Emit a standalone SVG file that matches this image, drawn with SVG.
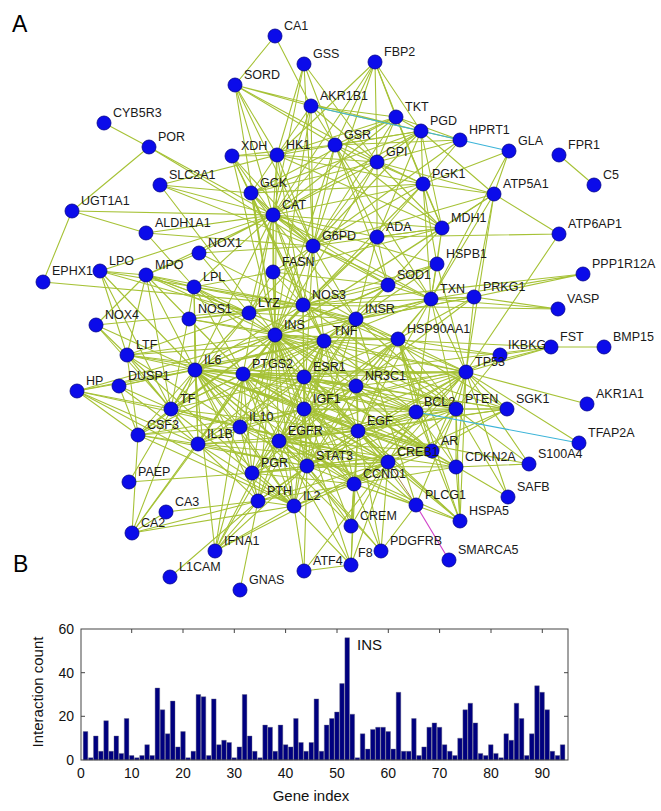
<svg xmlns="http://www.w3.org/2000/svg" width="661" height="811" viewBox="0 0 661 811">
<style>
.e{fill:none;stroke:#a6c236;stroke-width:1.1}
.n circle{fill:#0b0bea;stroke:#00008a;stroke-width:0.8}
.n text{font-family:"Liberation Sans",Arial,sans-serif;font-size:12.5px;fill:#1a1a1a}
.pl{font-family:"Liberation Sans",Arial,sans-serif;font-size:23px;fill:#000}
.ax{font-family:"Liberation Sans",Arial,sans-serif;font-size:14px;fill:#111}
.al{font-family:"Liberation Sans",Arial,sans-serif;font-size:15px;fill:#111}
</style>
<rect width="661" height="811" fill="#fff"/>
<text class="pl" x="12" y="32">A</text>
<text class="pl" x="13" y="572">B</text>
<g id="connectors">
<path class="e" d="M275 335L324 341M275 335L195 370M275 335L243 374M275 335L304 377M275 335L304 409M275 335L279 441M275 335L358 431M275 335L307 466M275 335L303 305M275 335L356 319M275 335L240 427M275 335L198 444M275 335L294 506M275 335L252 473M275 335L258 501M275 335L356 386M275 335L466 372M275 335L416 412M275 335L456 409M275 335L388 462M275 335L354 484M275 335L432 451M275 335L398 339M275 335L273 215M275 335L313 246M275 335L251 193M275 335L277 155M275 335L160 185M275 335L273 272M275 335L194 287M275 335L249 313M275 335L189 319M275 335L388 285M275 335L431 299M275 335L377 237M275 335L423 184M275 335L442 228M275 335L377 162M275 335L335 145M275 335L235 85M275 335L311 106M275 335L232 156M275 335L146 275M275 335L127 355M275 335L171 409M275 335L138 435M275 335L77 391M275 335L215 551M275 335L132 533M275 335L507 409M275 335L474 297M275 335L437 264M275 335L551 347M275 335L494 194M275 335L351 526M275 335L351 565"/>
<path class="e" d="M324 341L195 370M324 341L243 374M324 341L304 377M324 341L304 409M324 341L279 441M324 341L358 431M324 341L307 466M324 341L303 305M324 341L356 319M324 341L240 427M324 341L198 444M324 341L294 506M324 341L356 386M324 341L466 372M324 341L416 412M324 341L456 409M324 341L354 484M324 341L398 339M324 341L273 215M324 341L388 285M324 341L431 299M324 341L249 313M324 341L146 275M324 341L127 355M324 341L138 435M324 341L215 551M324 341L500 355M324 341L232 156M324 341L313 246M324 341L189 319M324 341L77 391M324 341L119 386M324 341L437 264"/>
<path class="e" d="M195 370L243 374M195 370L304 377M195 370L304 409M195 370L279 441M195 370L307 466M195 370L240 427M195 370L198 444M195 370L294 506M195 370L252 473M195 370L258 501M195 370L356 386M195 370L466 372M195 370L416 412M195 370L388 462M195 370L354 484M195 370L303 305M195 370L127 355M195 370L171 409M195 370L138 435M195 370L77 391M195 370L119 386M195 370L215 551M195 370L132 533M195 370L146 275M195 370L100 271M195 370L96 325M195 370L273 215M195 370L249 313M195 370L388 285M195 370L432 451M195 370L358 431M195 370L351 526M195 370L129 482M195 370L194 287"/>
<path class="e" d="M243 374L304 377M243 374L304 409M243 374L279 441M243 374L358 431M243 374L307 466M243 374L303 305M243 374L240 427M243 374L198 444M243 374L294 506M243 374L252 473M243 374L466 372M243 374L416 412M243 374L388 462M243 374L354 484M243 374L189 319M243 374L356 386M243 374L456 409M243 374L127 355M243 374L171 409M243 374L215 551M243 374L146 275M243 374L432 451M243 374L273 215M243 374L194 287"/>
<path class="e" d="M304 377L304 409M304 377L279 441M304 377L358 431M304 377L307 466M304 377L303 305M304 377L252 473M304 377L356 386M304 377L466 372M304 377L416 412M304 377L456 409M304 377L388 462M304 377L354 484M304 377L432 451M304 377L398 339M304 377L456 467M304 377L356 319M304 377L240 427M304 377L198 444M304 377L508 497M304 377L127 355M304 377L171 409M304 377L460 521M304 377L507 409M304 377L551 347M304 377L194 287"/>
<path class="e" d="M304 409L279 441M304 409L358 431M304 409L307 466M304 409L356 319M304 409L240 427M304 409L198 444M304 409L294 506M304 409L252 473M304 409L258 501M304 409L356 386M304 409L466 372M304 409L416 412M304 409L456 409M304 409L388 462M304 409L354 484M304 409L432 451M304 409L456 467M304 409L303 305M304 409L507 409M304 409L398 339M304 409L416 505M304 409L551 347M304 409L313 246M304 409L138 435"/>
<path class="e" d="M279 441L358 431M279 441L307 466M279 441L252 473M279 441L456 409M279 441L466 372M279 441L416 412M279 441L388 462M279 441L354 484M279 441L432 451M279 441L456 467M279 441L416 505M279 441L381 551M279 441L398 339M279 441L240 427M279 441L198 444M279 441L294 506M279 441L258 501M279 441L356 386M279 441L460 521M279 441L507 409M279 441L215 551M279 441L356 319M279 441L351 565"/>
<path class="e" d="M358 431L307 466M358 431L456 409M358 431L466 372M358 431L416 412M358 431L388 462M358 431L354 484M358 431L432 451M358 431L456 467M358 431L416 505M358 431L381 551M358 431L356 319M358 431L356 386M358 431L252 473M358 431L294 506M358 431L258 501M358 431L460 521M358 431L507 409M358 431L198 444M358 431L351 526M358 431L351 565M358 431L529 464M358 431L431 299M358 431L398 339M358 431L171 409"/>
<path class="e" d="M307 466L240 427M307 466L294 506M307 466L252 473M307 466L466 372M307 466L416 412M307 466L456 409M307 466L388 462M307 466L354 484M307 466L432 451M307 466L456 467M307 466L356 386M307 466L198 444M307 466L381 551M307 466L215 551M307 466L258 501M307 466L351 526M307 466L398 339M307 466L304 571M307 466L356 319M307 466L138 435"/>
<path class="e" d="M303 305L356 319M303 305L273 215M303 305L313 246M303 305L388 285M303 305L431 299M303 305L398 339M303 305L189 319M303 305L249 313M303 305L232 156M303 305L146 275M303 305L100 271M303 305L199 253M303 305L96 325M303 305L474 297M303 305L558 309M303 305L437 264M303 305L377 237M303 305L273 272M303 305L251 193M303 305L277 155M303 305L43 282M303 305L456 409M303 305L466 372M303 305L194 287M303 305L583 274"/>
<path class="e" d="M466 372L416 412M466 372L456 409M466 372L456 467M466 372L354 484M466 372L432 451M466 372L388 462M466 372L398 339M466 372L500 355M466 372L507 409M466 372L587 404M466 372L579 443M466 372L529 464M466 372L508 497M466 372L356 386M466 372L460 521M466 372L431 299M466 372L437 264M466 372L474 297M466 372L494 194M466 372L559 234M466 372L551 347"/>
<path class="e" d="M273 215L313 246M273 215L388 285M273 215L335 145M273 215L377 162M273 215L277 155M273 215L232 156M273 215L251 193M273 215L235 85M273 215L311 106M273 215L273 272M273 215L146 275M273 215L100 271M273 215L199 253M273 215L146 233M273 215L72 211M273 215L149 147M273 215L431 299M273 215L377 237M273 215L423 184M273 215L442 228M273 215L396 117M273 215L421 131M273 215L375 62M273 215L304 64M273 215L249 313M273 215L194 287M273 215L160 185M273 215L437 264"/>
<path class="e" d="M313 246L421 131M313 246L396 117M313 246L377 162M313 246L277 155M313 246L335 145M313 246L304 64M313 246L311 106M313 246L235 85M313 246L375 62M313 246L423 184M313 246L251 193M313 246L442 228M313 246L377 237M313 246L273 272M313 246L388 285M313 246L431 299M313 246L232 156M313 246L460 140M313 246L494 194M313 246L160 185M313 246L356 319M313 246L249 313M313 246L199 253M313 246L149 147M313 246L146 233"/>
<path class="e" d="M377 162L277 155M377 162L423 184M377 162L396 117M377 162L421 131M377 162L251 193M377 162L375 62M377 162L442 228M377 162L235 85M377 162L311 106M377 162L494 194M377 162L304 64M377 162L460 140M377 162L377 237"/>
<path class="e" d="M277 155L251 193M277 155L423 184M277 155L396 117M277 155L421 131M277 155L375 62M277 155L235 85M277 155L311 106M277 155L160 185M277 155L442 228M277 155L232 156M277 155L304 64"/>
<path class="e" d="M335 145L304 64M335 145L431 299M335 145L388 285M335 145L421 131M335 145L396 117M335 145L311 106M335 145L232 156M335 145L235 85M335 145L423 184M335 145L442 228M335 145L377 237M335 145L375 62M335 145L460 140"/>
<path class="e" d="M423 184L396 117M423 184L421 131M423 184L375 62M423 184L442 228M423 184L251 193M423 184L494 194M423 184L509 151M423 184L460 140M423 184L377 237M423 184L431 299M423 184L437 264"/>
<path class="e" d="M421 131L396 117M421 131L375 62M421 131L460 140M421 131L311 106M421 131L235 85M421 131L251 193M421 131L442 228M421 131L494 194M421 131L377 237M396 117L375 62M396 117L251 193M396 117L460 140M396 117L311 106M396 117L442 228M311 106L235 85M311 106L275 36M275 36L235 85"/>
<path class="e" d="M509 151L494 194M509 151L431 299M494 194L559 234M494 194L442 228M494 194L431 299M494 194L474 297M559 234L377 237M442 228L377 237M442 228L431 299M442 228L388 285M442 228L437 264M442 228L273 272M377 237L388 285M377 237L356 319M377 237L431 299M251 193L160 185M251 193L356 319M273 272L356 319M273 272L194 287M273 272L249 313M273 272L388 285M388 285L431 299M388 285L437 264"/>
<path class="e" d="M431 299L437 264M431 299L474 297M431 299L398 339M431 299L356 319M431 299L558 309M431 299L583 274M431 299L356 386M431 299L416 412M431 299L456 409M474 297L558 309M474 297L583 274M474 297L398 339M474 297L356 319M474 297L356 386"/>
<path class="e" d="M398 339L356 319M398 339L356 386M398 339L432 451M398 339L416 412M398 339L456 409M398 339L500 355M398 339L456 467M398 339L460 521M356 319L456 409M356 319L507 409M356 319L356 386M356 319L416 505M356 319L249 313M356 319L388 285M356 319L171 409M356 319L194 287"/>
<path class="e" d="M356 386L388 462M356 386L432 451M356 386L507 409M356 386L252 473M356 386L416 412M416 412L456 409M416 412L354 484M416 412L432 451M416 412L388 462M416 412L456 467M456 409L456 467M456 409L354 484M456 409L432 451M456 409L507 409M456 409L416 505M456 409L460 521M456 409L529 464M456 409L508 497M456 409L500 355M456 467L354 484M456 467L529 464M456 467L460 521"/>
<path class="e" d="M354 484L432 451M354 484L388 462M354 484L252 473M354 484L294 506M354 484L258 501M354 484L351 526M354 484L416 505M354 484L381 551M354 484L460 521M354 484L351 565M388 462L432 451M388 462L351 526M388 462L304 571M388 462L252 473M388 462L294 506M388 462L258 501M388 462L240 427M388 462L198 444M388 462L460 521M388 462L381 551M388 462L507 409M388 462L351 565M388 462L215 551M388 462L171 409M432 451L252 473M432 451L507 409M432 451L460 521"/>
<path class="e" d="M551 347L604 347M551 347L500 355M416 505L381 551M351 565L294 506M351 565L304 571M304 571L294 506M294 506L240 427M294 506L198 444M294 506L252 473M294 506L258 501M294 506L215 551M294 506L132 533M294 506L138 435M294 506L171 409M294 506L127 355M294 506L77 391"/>
<path class="e" d="M258 501L252 473M258 501L240 590M258 501L166 512M258 501L170 577M258 501L198 444M258 501L240 427M258 501L215 551M258 501L132 533M252 473L129 482M166 512L132 533M132 533L138 435M132 533L198 444M240 427L198 444M240 427L138 435M240 427L171 409M240 427L77 391M240 427L127 355"/>
<path class="e" d="M198 444L138 435M198 444L171 409M198 444L77 391M198 444L119 386M198 444L127 355M198 444L194 287M171 409L127 355M171 409L77 391M171 409L138 435M171 409L119 386M171 409L146 275M171 409L100 271M171 409L96 325M171 409L249 313M171 409L194 287M138 435L127 355M138 435L77 391M138 435L119 386"/>
<path class="e" d="M127 355L100 271M127 355L146 275M127 355L249 313M127 355L96 325M249 313L146 275M249 313L100 271M249 313L189 319M249 313L194 287M249 313L199 253M146 275L100 271M146 275L199 253M146 275L96 325M146 275L194 287M194 287L146 233M72 211L149 147M72 211L43 282M72 211L146 233M149 147L104 123M559 155L594 185"/>
<path d="M311 106L509 151M416 412L579 443" fill="none" stroke="#3cb4d8" stroke-width="1.1"/>
<path d="M416 505L449 560" fill="none" stroke="#d040c8" stroke-width="1.1"/>
<path d="M388 462L416 505" fill="none" stroke="#a88a4a" stroke-width="1"/>
</g>
<g id="nodes" class="n">
<g id="ADA"><circle cx="377" cy="237" r="7"/><text x="386" y="231">ADA</text></g>
<g id="AKR1A1"><circle cx="587" cy="404" r="7"/><text x="596" y="398">AKR1A1</text></g>
<g id="AKR1B1"><circle cx="311" cy="106" r="7"/><text x="320" y="100">AKR1B1</text></g>
<g id="ALDH1A1"><circle cx="146" cy="233" r="7"/><text x="155" y="227">ALDH1A1</text></g>
<g id="AR"><circle cx="432" cy="451" r="7"/><text x="441" y="445">AR</text></g>
<g id="ATF4"><circle cx="304" cy="571" r="7"/><text x="313" y="565">ATF4</text></g>
<g id="ATP5A1"><circle cx="494" cy="194" r="7"/><text x="503" y="188">ATP5A1</text></g>
<g id="ATP6AP1"><circle cx="559" cy="234" r="7"/><text x="568" y="228">ATP6AP1</text></g>
<g id="BCL2"><circle cx="416" cy="412" r="7"/><text x="424" y="406">BCL2</text></g>
<g id="BMP15"><circle cx="604" cy="347" r="7"/><text x="613" y="341">BMP15</text></g>
<g id="C5"><circle cx="594" cy="185" r="7"/><text x="603" y="179">C5</text></g>
<g id="CA1"><circle cx="275" cy="36" r="7"/><text x="284" y="30">CA1</text></g>
<g id="CA2"><circle cx="132" cy="533" r="7"/><text x="141" y="527">CA2</text></g>
<g id="CA3"><circle cx="166" cy="512" r="7"/><text x="175" y="506">CA3</text></g>
<g id="CAT"><circle cx="273" cy="215" r="7"/><text x="282" y="209">CAT</text></g>
<g id="CCND1"><circle cx="354" cy="484" r="7"/><text x="363" y="478">CCND1</text></g>
<g id="CDKN2A"><circle cx="456" cy="467" r="7"/><text x="465" y="461">CDKN2A</text></g>
<g id="CREB1"><circle cx="388" cy="462" r="7"/><text x="397" y="456">CREB1</text></g>
<g id="CREM"><circle cx="351" cy="526" r="7"/><text x="360" y="520">CREM</text></g>
<g id="CSF3"><circle cx="138" cy="435" r="7"/><text x="147" y="429">CSF3</text></g>
<g id="CYB5R3"><circle cx="104" cy="123" r="7"/><text x="113" y="117">CYB5R3</text></g>
<g id="DUSP1"><circle cx="119" cy="386" r="7"/><text x="128" y="380">DUSP1</text></g>
<g id="EGF"><circle cx="358" cy="431" r="7"/><text x="367" y="425">EGF</text></g>
<g id="EGFR"><circle cx="279" cy="441" r="7"/><text x="288" y="435">EGFR</text></g>
<g id="EPHX1"><circle cx="43" cy="282" r="7"/><text x="52" y="275">EPHX1</text></g>
<g id="ESR1"><circle cx="304" cy="377" r="7"/><text x="313" y="371">ESR1</text></g>
<g id="F8"><circle cx="351" cy="565" r="7"/><text x="358" y="557">F8</text></g>
<g id="FASN"><circle cx="273" cy="272" r="7"/><text x="282" y="266">FASN</text></g>
<g id="FBP2"><circle cx="375" cy="62" r="7"/><text x="384" y="56">FBP2</text></g>
<g id="FPR1"><circle cx="559" cy="155" r="7"/><text x="568" y="149">FPR1</text></g>
<g id="FST"><circle cx="551" cy="347" r="7"/><text x="560" y="341">FST</text></g>
<g id="G6PD"><circle cx="313" cy="246" r="7"/><text x="322" y="240">G6PD</text></g>
<g id="GCK"><circle cx="251" cy="193" r="7"/><text x="260" y="187">GCK</text></g>
<g id="GLA"><circle cx="509" cy="151" r="7"/><text x="518" y="145">GLA</text></g>
<g id="GNAS"><circle cx="240" cy="590" r="7"/><text x="249" y="584">GNAS</text></g>
<g id="GPI"><circle cx="377" cy="162" r="7"/><text x="386" y="156">GPI</text></g>
<g id="GSR"><circle cx="335" cy="145" r="7"/><text x="344" y="139">GSR</text></g>
<g id="GSS"><circle cx="304" cy="64" r="7"/><text x="313" y="58">GSS</text></g>
<g id="HK1"><circle cx="277" cy="155" r="7"/><text x="286" y="149">HK1</text></g>
<g id="HP"><circle cx="77" cy="391" r="7"/><text x="86" y="385">HP</text></g>
<g id="HPRT1"><circle cx="460" cy="140" r="7"/><text x="469" y="134">HPRT1</text></g>
<g id="HSP90AA1"><circle cx="398" cy="339" r="7"/><text x="407" y="333">HSP90AA1</text></g>
<g id="HSPA5"><circle cx="460" cy="521" r="7"/><text x="469" y="515">HSPA5</text></g>
<g id="HSPB1"><circle cx="437" cy="264" r="7"/><text x="446" y="258">HSPB1</text></g>
<g id="IFNA1"><circle cx="215" cy="551" r="7"/><text x="224" y="545">IFNA1</text></g>
<g id="IGF1"><circle cx="304" cy="409" r="7"/><text x="313" y="403">IGF1</text></g>
<g id="IKBKG"><circle cx="500" cy="355" r="7"/><text x="508" y="349">IKBKG</text></g>
<g id="IL10"><circle cx="240" cy="427" r="7"/><text x="249" y="421">IL10</text></g>
<g id="IL1B"><circle cx="198" cy="444" r="7"/><text x="207" y="438">IL1B</text></g>
<g id="IL2"><circle cx="294" cy="506" r="7"/><text x="303" y="500">IL2</text></g>
<g id="IL6"><circle cx="195" cy="370" r="7"/><text x="204" y="364">IL6</text></g>
<g id="INS"><circle cx="275" cy="335" r="7"/><text x="284" y="329">INS</text></g>
<g id="INSR"><circle cx="356" cy="319" r="7"/><text x="365" y="313">INSR</text></g>
<g id="L1CAM"><circle cx="170" cy="577" r="7"/><text x="179" y="571">L1CAM</text></g>
<g id="LPL"><circle cx="194" cy="287" r="7"/><text x="203" y="281">LPL</text></g>
<g id="LPO"><circle cx="100" cy="271" r="7"/><text x="109" y="265">LPO</text></g>
<g id="LTF"><circle cx="127" cy="355" r="7"/><text x="136" y="349">LTF</text></g>
<g id="LYZ"><circle cx="249" cy="313" r="7"/><text x="258" y="307">LYZ</text></g>
<g id="MDH1"><circle cx="442" cy="228" r="7"/><text x="451" y="222">MDH1</text></g>
<g id="MPO"><circle cx="146" cy="275" r="7"/><text x="155" y="269">MPO</text></g>
<g id="NOS1"><circle cx="189" cy="319" r="7"/><text x="198" y="313">NOS1</text></g>
<g id="NOS3"><circle cx="303" cy="305" r="7"/><text x="312" y="299">NOS3</text></g>
<g id="NOX1"><circle cx="199" cy="253" r="7"/><text x="208" y="247">NOX1</text></g>
<g id="NOX4"><circle cx="96" cy="325" r="7"/><text x="105" y="319">NOX4</text></g>
<g id="NR3C1"><circle cx="356" cy="386" r="7"/><text x="365" y="380">NR3C1</text></g>
<g id="PAEP"><circle cx="129" cy="482" r="7"/><text x="138" y="476">PAEP</text></g>
<g id="PDGFRB"><circle cx="381" cy="551" r="7"/><text x="390" y="545">PDGFRB</text></g>
<g id="PGD"><circle cx="421" cy="131" r="7"/><text x="430" y="125">PGD</text></g>
<g id="PGK1"><circle cx="423" cy="184" r="7"/><text x="432" y="178">PGK1</text></g>
<g id="PGR"><circle cx="252" cy="473" r="7"/><text x="261" y="467">PGR</text></g>
<g id="PLCG1"><circle cx="416" cy="505" r="7"/><text x="425" y="499">PLCG1</text></g>
<g id="POR"><circle cx="149" cy="147" r="7"/><text x="158" y="141">POR</text></g>
<g id="PPP1R12A"><circle cx="583" cy="274" r="7"/><text x="592" y="268">PPP1R12A</text></g>
<g id="PRKG1"><circle cx="474" cy="297" r="7"/><text x="483" y="291">PRKG1</text></g>
<g id="PTEN"><circle cx="456" cy="409" r="7"/><text x="465" y="403">PTEN</text></g>
<g id="PTGS2"><circle cx="243" cy="374" r="7"/><text x="252" y="368">PTGS2</text></g>
<g id="PTH"><circle cx="258" cy="501" r="7"/><text x="267" y="495">PTH</text></g>
<g id="S100A4"><circle cx="529" cy="464" r="7"/><text x="538" y="458">S100A4</text></g>
<g id="SAFB"><circle cx="508" cy="497" r="7"/><text x="517" y="491">SAFB</text></g>
<g id="SGK1"><circle cx="507" cy="409" r="7"/><text x="516" y="403">SGK1</text></g>
<g id="SLC2A1"><circle cx="160" cy="185" r="7"/><text x="169" y="179">SLC2A1</text></g>
<g id="SMARCA5"><circle cx="449" cy="560" r="7"/><text x="458" y="554">SMARCA5</text></g>
<g id="SOD1"><circle cx="388" cy="285" r="7"/><text x="397" y="279">SOD1</text></g>
<g id="SORD"><circle cx="235" cy="85" r="7"/><text x="244" y="79">SORD</text></g>
<g id="STAT3"><circle cx="307" cy="466" r="7"/><text x="316" y="460">STAT3</text></g>
<g id="TF"><circle cx="171" cy="409" r="7"/><text x="180" y="403">TF</text></g>
<g id="TFAP2A"><circle cx="579" cy="443" r="7"/><text x="588" y="437">TFAP2A</text></g>
<g id="TKT"><circle cx="396" cy="117" r="7"/><text x="405" y="111">TKT</text></g>
<g id="TNF"><circle cx="324" cy="341" r="7"/><text x="333" y="335">TNF</text></g>
<g id="TP53"><circle cx="466" cy="372" r="7"/><text x="475" y="366">TP53</text></g>
<g id="TXN"><circle cx="431" cy="299" r="7"/><text x="440" y="293">TXN</text></g>
<g id="UGT1A1"><circle cx="72" cy="211" r="7"/><text x="81" y="205">UGT1A1</text></g>
<g id="VASP"><circle cx="558" cy="309" r="7"/><text x="567" y="303">VASP</text></g>
<g id="XDH"><circle cx="232" cy="156" r="7"/><text x="241" y="150">XDH</text></g>
</g>
<g id="chart">
<path fill="#00007f" stroke="#6a6a80" stroke-width="0.4" d="M83.2 760v-28.4h4.6v28.4zM88.4 760v-2.2h4.6v2.2zM93.5 760v-24h4.6v24zM98.6 760v-8.7h4.6v8.7zM103.8 760v-39.3h4.6v39.3zM108.9 760v-8.7h4.6v8.7zM114 760v-24h4.6v24zM119.1 760v-6.6h4.6v6.6zM124.3 760v-41.5h4.6v41.5zM129.4 760v-4.4h4.6v4.4zM134.5 760v-2.2h4.6v2.2zM139.7 760v-4.4h4.6v4.4zM144.8 760v-15.3h4.6v15.3zM149.9 760v-4.4h4.6v4.4zM155.1 760v-72h4.6v72zM160.2 760v-50.2h4.6v50.2zM165.3 760v-26.2h4.6v26.2zM170.4 760v-58.9h4.6v58.9zM175.6 760v-13.1h4.6v13.1zM180.7 760v-28.4h4.6v28.4zM185.8 760v-2.2h4.6v2.2zM191 760v-8.7h4.6v8.7zM196.1 760v-65.5h4.6v65.5zM201.2 760v-63.3h4.6v63.3zM206.4 760v-4.4h4.6v4.4zM211.5 760v-61.1h4.6v61.1zM216.6 760v-15.3h4.6v15.3zM221.7 760v-19.7h4.6v19.7zM226.9 760v-17.5h4.6v17.5zM232 760v-2.2h4.6v2.2zM237.1 760v-13.1h4.6v13.1zM242.3 760v-65.5h4.6v65.5zM247.4 760v-24h4.6v24zM252.5 760v-8.7h4.6v8.7zM257.7 760v-2.2h4.6v2.2zM262.8 760v-34.9h4.6v34.9zM267.9 760v-32.7h4.6v32.7zM273 760v-8.7h4.6v8.7zM278.2 760v-34.9h4.6v34.9zM283.3 760v-15.3h4.6v15.3zM288.4 760v-13.1h4.6v13.1zM293.6 760v-41.5h4.6v41.5zM298.7 760v-17.5h4.6v17.5zM303.8 760v-8.7h4.6v8.7zM309 760v-17.5h4.6v17.5zM314.1 760v-61.1h4.6v61.1zM319.2 760v-8.7h4.6v8.7zM324.3 760v-34.9h4.6v34.9zM329.5 760v-41.5h4.6v41.5zM334.6 760v-48h4.6v48zM339.7 760v-76.4h4.6v76.4zM344.9 760v-122.3h4.6v122.3zM350 760v-45.8h4.6v45.8zM355.1 760v-2.2h4.6v2.2zM360.3 760v-26.2h4.6v26.2zM365.4 760v-10.9h4.6v10.9zM370.5 760v-30.6h4.6v30.6zM375.6 760v-32.7h4.6v32.7zM380.8 760v-32.7h4.6v32.7zM385.9 760v-28.4h4.6v28.4zM391 760v-10.9h4.6v10.9zM396.2 760v-67.7h4.6v67.7zM401.3 760v-8.7h4.6v8.7zM406.4 760v-8.7h4.6v8.7zM411.6 760v-41.5h4.6v41.5zM416.7 760v-4.4h4.6v4.4zM421.8 760v-13.1h4.6v13.1zM426.9 760v-32.7h4.6v32.7zM432.1 760v-37.1h4.6v37.1zM437.2 760v-32.7h4.6v32.7zM442.3 760v-15.3h4.6v15.3zM447.5 760v-8.7h4.6v8.7zM452.6 760v-4.4h4.6v4.4zM457.7 760v-21.8h4.6v21.8zM462.9 760v-50.2h4.6v50.2zM468 760v-56.8h4.6v56.8zM473.1 760v-37.1h4.6v37.1zM478.2 760v-6.6h4.6v6.6zM483.4 760v-4.4h4.6v4.4zM488.5 760v-15.3h4.6v15.3zM493.6 760v-6.6h4.6v6.6zM498.8 760v-2.2h4.6v2.2zM503.9 760v-26.2h4.6v26.2zM509 760v-19.7h4.6v19.7zM514.2 760v-56.8h4.6v56.8zM519.3 760v-41.5h4.6v41.5zM524.4 760v-4.4h4.6v4.4zM529.5 760v-26.2h4.6v26.2zM534.7 760v-74.2h4.6v74.2zM539.8 760v-67.7h4.6v67.7zM544.9 760v-50.2h4.6v50.2zM550.1 760v-8.7h4.6v8.7zM555.2 760v-4.4h4.6v4.4zM560.3 760v-15.3h4.6v15.3z"/>
<rect x="81" y="629" width="487" height="131" fill="none" stroke="#444" stroke-width="1"/>
<path fill="none" stroke="#444" stroke-width="1" d="M131.7 629v4M183 629v4M234.3 629v4M285.6 629v4M337 629v4M388.3 629v4M439.6 629v4M491 629v4M542.3 629v4M568 716.3h-4M568 672.7h-4M81 716.3h4M81 672.7h4"/>
<g class="ax" text-anchor="end">
<text x="74" y="765">0</text>
<text x="74" y="721">20</text>
<text x="74" y="678">40</text>
<text x="74" y="634">60</text>
</g>
<g class="ax" text-anchor="middle">
<text x="81" y="778">0</text>
<text x="131.7" y="778">10</text>
<text x="183" y="778">20</text>
<text x="234.3" y="778">30</text>
<text x="285.6" y="778">40</text>
<text x="337" y="778">50</text>
<text x="388.3" y="778">60</text>
<text x="439.6" y="778">70</text>
<text x="491" y="778">80</text>
<text x="542.3" y="778">90</text>
</g>
<text class="al" x="311" y="801" text-anchor="middle">Gene index</text>
<text class="al" transform="translate(43 692) rotate(-90)" text-anchor="middle">Interaction count</text>
<text class="al" x="357" y="650">INS</text>
</g>
</svg>
